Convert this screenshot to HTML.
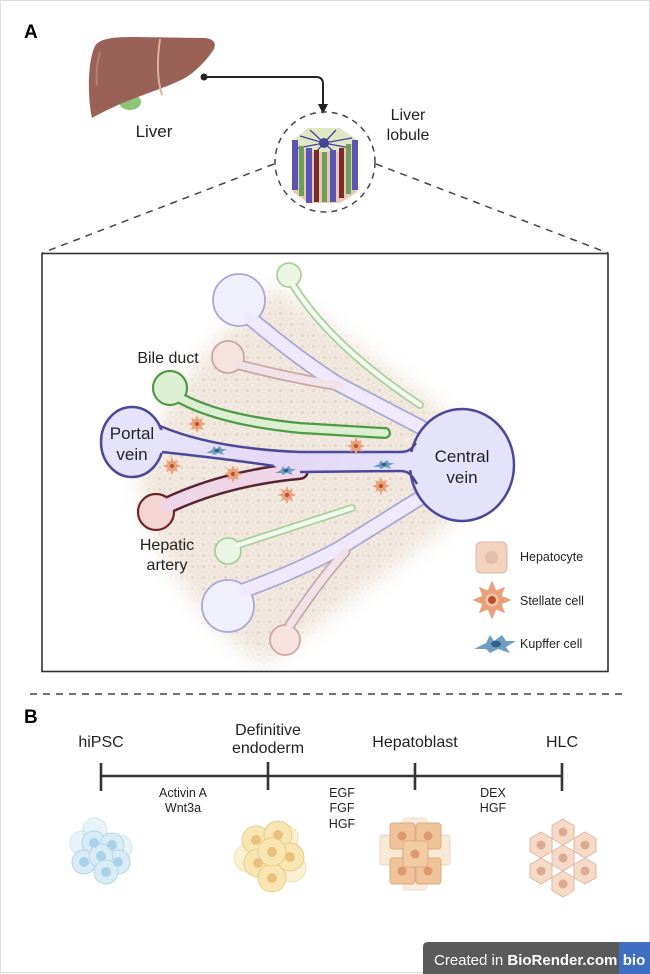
<!DOCTYPE html>
<html><head><meta charset="utf-8"><style>
html,body{margin:0;padding:0;background:#fff;}
svg{display:block;}
text{font-family:"Liberation Sans",sans-serif;fill:#222;}
</style></head><body>
<svg width="650" height="974" viewBox="0 0 650 974" xmlns="http://www.w3.org/2000/svg">
<defs>
<pattern id="hep" width="11" height="11" patternUnits="userSpaceOnUse">
<rect width="11" height="11" fill="#f5ede6"/>
<rect x="0.8" y="0.8" width="9.4" height="9.4" rx="2" fill="#f2e9e0" stroke="#e6d9cd" stroke-width="0.6"/>
<circle cx="5.5" cy="5.5" r="1.8" fill="#e6d8cb"/>
</pattern>
<filter id="bl" x="-20%" y="-20%" width="140%" height="140%"><feGaussianBlur stdDeviation="10"/></filter>
<mask id="fanm"><path d="M140,480 C150,410 220,330 275,285 L455,420 L455,520 L265,665 C210,630 150,560 140,480 Z" fill="#fff" filter="url(#bl)"/></mask>
<linearGradient id="chan" x1="0" x2="1"><stop offset="0" stop-color="#e6e4fb"/><stop offset="0.5" stop-color="#e5d6f6"/><stop offset="1" stop-color="#e4e3fb"/></linearGradient>
<polygon id="hx" points="0,-13 11,-6.5 11,6.5 0,13 -11,6.5 -11,-6.5"/>
<g id="st">
<g fill="#eaa07a">
<circle cx="0" cy="0" r="5"/>
<path d="M0,-9 L2,-4 L-2,-4 Z M0,9 L2,4 L-2,4 Z M-9,0 L-4,2 L-4,-2 Z M9,0 L4,2 L4,-2 Z M6,-6 L1,-4 L4,-1 Z M-6,6 L-1,4 L-4,1 Z M-6,-6 L-4,-1 L-1,-4 Z M6,6 L4,1 L1,4 Z"/>
</g>
<circle cx="0" cy="0" r="2" fill="#b5532b"/>
</g>
<g id="ku"><path d="M-10,3 L-4,0 L-2,-4 L0,-1 L4,-4 L6,-1 L11,-1 L6,2 L8,5 L2,3 L-2,5 L-4,3 Z" fill="#6e9ec0"/><ellipse cx="1" cy="0.5" rx="2.5" ry="1.6" fill="#2f5f8a"/></g>
</defs>
<rect x="0.5" y="0.5" width="649" height="972" fill="#fff" stroke="#ddd"/>

<!-- A -->
<text x="24" y="38" font-size="19" font-weight="bold" style="fill:#000">A</text>
<!-- liver -->
<ellipse cx="130" cy="102" rx="11" ry="8" fill="#8cc47a"/>
<path d="M92,118 C87,95 88,60 95,46 C100,38 115,37 135,37 L205,38 C216,39 217,46 212,52 C205,62 195,72 185,78 C170,86 150,92 130,100 C115,106 103,112 92,118 Z" fill="#9a6156"/>
<path d="M160,39 C157,60 157,80 162,95" stroke="#d8b694" stroke-width="2" fill="none"/>
<path d="M100,52 C97,62 96,74 97,86" stroke="#b37f74" stroke-width="2" fill="none"/>
<text x="154" y="137" font-size="17" text-anchor="middle">Liver</text>
<!-- connector -->
<circle cx="204" cy="77" r="3.5" fill="#222"/>
<path d="M204,77 H316 Q323,77 323,84 V106" stroke="#222" stroke-width="2" fill="none"/>
<path d="M318,104 L328,104 L323,114 Z" fill="#222"/>
<!-- lobule circle -->
<circle cx="325" cy="162" r="50" fill="none" stroke="#444" stroke-width="1.5" stroke-dasharray="6,5"/>
<path d="M274,164 L42,253" stroke="#444" stroke-width="1.5" stroke-dasharray="7,6"/>
<path d="M376,164 L608,253" stroke="#444" stroke-width="1.5" stroke-dasharray="7,6"/>
<!-- lobule prism -->
<polygon points="293,140 308,128 340,128 357,140 357,192 340,203 308,203 293,192" fill="#eac9b4"/>
<polygon points="293,140 308,128 340,128 357,140 340,152 308,152" fill="#dfe7c4"/>
<circle cx="324" cy="143" r="5" fill="#2f4f8f"/>
<g stroke="#4d3f9a" stroke-width="1.3"><path d="M324,143 L300,136 M324,143 L310,130 M324,143 L336,130 M324,143 L352,138 M324,143 L350,148 M324,143 L298,148 M324,143 L316,152 M324,143 L334,152"/></g>
<g>
<rect x="292" y="140" width="6" height="50" fill="#5a55b5"/>
<rect x="299" y="146" width="5" height="50" fill="#6ba05a"/>
<rect x="306" y="148" width="6" height="55" fill="#5a55b5"/>
<rect x="314" y="150" width="5" height="52" fill="#7a2b2b"/>
<rect x="322" y="152" width="5" height="50" fill="#6ba05a"/>
<rect x="330" y="150" width="6" height="52" fill="#5a55b5"/>
<rect x="339" y="148" width="5" height="50" fill="#7a2b2b"/>
<rect x="346" y="144" width="5" height="50" fill="#6ba05a"/>
<rect x="352" y="140" width="6" height="50" fill="#5a55b5"/>
</g>
<text x="408" y="120" font-size="16" text-anchor="middle">Liver</text>
<text x="408" y="140" font-size="16" text-anchor="middle">lobule</text>

<!-- box -->
<rect x="42" y="253.5" width="566" height="418" fill="#fff" stroke="#333" stroke-width="1.6"/>
<rect x="100" y="260" width="380" height="410" fill="url(#hep)" mask="url(#fanm)"/>

<g fill="none" stroke-linecap="round">
<path d="M250,318 Q300,360 340,385 L430,432" stroke="#a9a7d4" stroke-width="16"/>
<path d="M240,365 Q290,378 340,386" stroke="#c9a8a4" stroke-width="11"/>
<path d="M293,285 Q330,345 420,405" stroke="#a8d09b" stroke-width="8"/>
<path d="M238,545 Q300,525 352,508" stroke="#a8d09b" stroke-width="8"/>
<path d="M245,590 Q300,570 340,548 L425,495" stroke="#a9a7d4" stroke-width="16"/>
<path d="M290,625 Q320,580 345,552" stroke="#c9a8a4" stroke-width="11"/>
</g>
<circle cx="239" cy="300" r="26" fill="#f0effc" stroke="#a9a7d4" stroke-width="1.8"/>
<circle cx="228" cy="357" r="16" fill="#f6e2df" stroke="#c9a8a4" stroke-width="1.8"/>
<circle cx="289" cy="275" r="12" fill="#ebf5e5" stroke="#a8d09b" stroke-width="1.8"/>
<circle cx="228" cy="551" r="13" fill="#ebf5e5" stroke="#a8d09b" stroke-width="1.8"/>
<circle cx="228" cy="606" r="26" fill="#f0effc" stroke="#a9a7d4" stroke-width="1.8"/>
<circle cx="285" cy="640" r="15" fill="#f6e2df" stroke="#c9a8a4" stroke-width="1.8"/>
<g fill="none" stroke-linecap="round">
<path d="M250,318 Q300,360 340,385 L430,432" stroke="#efe9fb" stroke-width="12.5"/>
<path d="M240,365 Q290,378 340,386" stroke="#f1e2ea" stroke-width="7.5"/>
<path d="M293,285 Q330,345 420,405" stroke="#f4faf1" stroke-width="4.5"/>
<path d="M238,545 Q300,525 352,508" stroke="#f4faf1" stroke-width="4.5"/>
<path d="M245,590 Q300,570 340,548 L425,495" stroke="#efe9fb" stroke-width="12.5"/>
<path d="M290,625 Q320,580 345,552" stroke="#f1e2ea" stroke-width="7.5"/>
</g>

<!-- bile duct -->
<path d="M180,398 Q220,420 300,428 L385,433" fill="none" stroke="#4f9a45" stroke-width="12" stroke-linecap="round"/>
<circle cx="170" cy="388" r="17" fill="#dcefd2" stroke="#4f9a45" stroke-width="2.2"/>
<path d="M180,398 Q220,420 300,428 L385,433" fill="none" stroke="#dcefd2" stroke-width="7.5" stroke-linecap="round"/>

<!-- hepatic artery -->
<path d="M166,506 Q225,478 300,471" fill="none" stroke="#5a2335" stroke-width="18" stroke-linecap="round"/>
<circle cx="156" cy="512" r="18" fill="#f4d5d2" stroke="#6e2328" stroke-width="2.2"/>
<path d="M166,506 Q225,478 300,471" fill="none" stroke="#efd6e6" stroke-width="13" stroke-linecap="round"/>

<!-- portal vein + channel -->
<path d="M150,426 C200,444 250,450 300,452 L425,452 L425,470 L300,472 C288,472 280,468 274,466 L150,452 Z" fill="url(#chan)"/>
<ellipse cx="132" cy="442" rx="31" ry="35" fill="#e4e3fb" stroke="#4b4897" stroke-width="2.5"/>
<ellipse cx="462" cy="465" rx="52" ry="56" fill="#e4e3fb" stroke="#4b4897" stroke-width="2.5"/>
<path d="M155,428 C200,444 250,450 300,452 L418,452 L418,470 L300,472 C288,472 280,468 274,466 L155,452 Z" fill="url(#chan)"/>
<g fill="none" stroke="#4b4897" stroke-width="2.5">
<path d="M160,426 C200,443 250,450 300,452 L400,452 C410,452 412,448 416,443"/>
<path d="M162,452 C200,456 240,461 274,466"/>
<path d="M300,472 L400,471 C410,471 412,476 417,484"/>
</g>
<text x="132" y="439" font-size="17" text-anchor="middle">Portal</text>
<text x="132" y="460" font-size="17" text-anchor="middle">vein</text>
<text x="462" y="462" font-size="17" text-anchor="middle">Central</text>
<text x="462" y="483" font-size="17" text-anchor="middle">vein</text>
<text x="168" y="363" font-size="16" text-anchor="middle">Bile duct</text>
<text x="167" y="550" font-size="16" text-anchor="middle">Hepatic</text>
<text x="167" y="570" font-size="16" text-anchor="middle">artery</text>

<use href="#st" x="197" y="424"/>
<use href="#st" x="172" y="466"/>
<use href="#st" x="233" y="474"/>
<use href="#st" x="287" y="495"/>
<use href="#st" x="356" y="446"/>
<use href="#st" x="381" y="486"/>
<use href="#ku" x="216" y="450"/>
<use href="#ku" x="285" y="470"/>
<use href="#ku" x="383" y="464"/>

<!-- legend -->
<rect x="476" y="542" width="31" height="31" rx="5" fill="#f1d3bf" stroke="#dcb9a3"/>
<circle cx="491.5" cy="557.5" r="6.5" fill="#e2bfab"/>
<text x="520" y="561" font-size="12.5">Hepatocyte</text>
<g transform="translate(492,600) scale(2.2)">
<g fill="#eaa07a"><circle r="5"/><path d="M0,-9 L2,-4 L-2,-4 Z M0,9 L2,4 L-2,4 Z M-9,0 L-4,2 L-4,-2 Z M9,0 L4,2 L4,-2 Z M6,-6 L1,-4 L4,-1 Z M-6,6 L-1,4 L-4,1 Z M-6,-6 L-4,-1 L-1,-4 Z M6,6 L4,1 L1,4 Z"/></g>
<circle r="3" fill="#f3c3a4"/><circle r="1.8" fill="#b5532b"/></g>
<text x="520" y="605" font-size="12.5">Stellate cell</text>
<g transform="translate(494,643) scale(2)"><path d="M-10,3 L-4,0 L-2,-4 L0,-1 L4,-4 L6,-1 L11,-1 L6,2 L8,5 L2,3 L-2,5 L-4,3 Z" fill="#6e9ec0"/><ellipse cx="1" cy="0.5" rx="2.5" ry="1.6" fill="#2f5f8a"/></g>
<text x="520" y="648" font-size="12.5">Kupffer cell</text>

<path d="M30,694 H622" stroke="#444" stroke-width="1.5" stroke-dasharray="7,6"/>

<!-- B -->
<text x="24" y="723" font-size="19" font-weight="bold" style="fill:#000">B</text>
<text x="101" y="747" font-size="16" text-anchor="middle">hiPSC</text>
<text x="268" y="735" font-size="16" text-anchor="middle">Definitive</text>
<text x="268" y="753" font-size="16" text-anchor="middle">endoderm</text>
<text x="415" y="747" font-size="16" text-anchor="middle">Hepatoblast</text>
<text x="562" y="747" font-size="16" text-anchor="middle">HLC</text>
<g stroke="#333" stroke-width="2.6">
<path d="M101,776 H562"/>
<path d="M101,763 V791 M268,762 V790 M415,763 V790 M562,763 V791"/>
</g>
<g font-size="12.5" text-anchor="middle">
<text x="183" y="797">Activin A</text><text x="183" y="812">Wnt3a</text>
<text x="342" y="797">EGF</text><text x="342" y="812">FGF</text><text x="342" y="828">HGF</text>
<text x="493" y="797">DEX</text><text x="493" y="812">HGF</text>
</g>

<g stroke="#b3d6e8" stroke-width="1" fill="#d9ecf6">
<circle cx="82" cy="843" r="12" opacity="0.6"/><circle cx="120" cy="847" r="12" opacity="0.6"/><circle cx="95" cy="830" r="12" opacity="0.6"/>
<circle cx="94" cy="843" r="12"/><circle cx="112" cy="845" r="12"/><circle cx="84" cy="862" r="12"/>
<circle cx="118" cy="862" r="12"/><circle cx="101" cy="856" r="12"/><circle cx="106" cy="872" r="12"/>
</g>
<g fill="#a9d1e8"><circle cx="94" cy="843" r="5"/><circle cx="112" cy="845" r="5"/><circle cx="84" cy="862" r="5"/><circle cx="118" cy="862" r="5"/><circle cx="101" cy="856" r="5"/><circle cx="106" cy="872" r="5"/></g>
<g stroke="#e6cf8a" stroke-width="1" fill="#f8e6b2">
<circle cx="248" cy="858" r="14" opacity="0.6"/><circle cx="292" cy="868" r="14" opacity="0.6"/><circle cx="285" cy="838" r="13" opacity="0.6"/>
<circle cx="256" cy="840" r="14"/><circle cx="278" cy="835" r="14"/><circle cx="258" cy="863" r="14"/>
<circle cx="290" cy="857" r="14"/><circle cx="272" cy="878" r="14"/><circle cx="272" cy="852" r="14"/>
</g>
<g fill="#ebc07f"><circle cx="256" cy="840" r="5"/><circle cx="278" cy="835" r="5"/><circle cx="258" cy="863" r="5"/><circle cx="290" cy="857" r="5"/><circle cx="272" cy="878" r="5"/><circle cx="272" cy="852" r="5"/></g>
<g stroke="#dcab80" stroke-width="1" fill="#f3d2ae">
<rect x="380" y="835" width="22" height="30" rx="3" opacity="0.5"/><rect x="428" y="835" width="22" height="30" rx="3" opacity="0.5"/><rect x="403" y="818" width="24" height="72" rx="3" opacity="0.4"/>
<rect x="390" y="823" width="25" height="26" rx="3" fill="#f0c49a"/><rect x="416" y="823" width="25" height="26" rx="3" fill="#f0c49a"/>
<rect x="390" y="858" width="25" height="26" rx="3" fill="#f0c49a"/><rect x="416" y="858" width="25" height="26" rx="3" fill="#f0c49a"/>
<rect x="403" y="841" width="25" height="26" rx="3" fill="#f2cba3"/>
</g>
<g fill="#dd9a72"><circle cx="402" cy="836" r="4.5"/><circle cx="428" cy="836" r="4.5"/><circle cx="402" cy="871" r="4.5"/><circle cx="428" cy="871" r="4.5"/><circle cx="415" cy="854" r="4.5"/></g>
<g stroke="#e2b7a0" stroke-width="1" fill="#f6dac8">
<use href="#hx" x="563" y="832"/><use href="#hx" x="541" y="845"/><use href="#hx" x="585" y="845"/>
<use href="#hx" x="563" y="858"/><use href="#hx" x="541" y="871"/><use href="#hx" x="585" y="871"/>
<use href="#hx" x="563" y="884"/>
</g>
<g fill="#dca994"><circle cx="563" cy="832" r="4.5"/><circle cx="541" cy="845" r="4.5"/><circle cx="585" cy="845" r="4.5"/><circle cx="563" cy="858" r="4.5"/><circle cx="541" cy="871" r="4.5"/><circle cx="585" cy="871" r="4.5"/><circle cx="563" cy="884" r="4.5"/></g>

<path d="M428,942 H650 V974 H423 V947 Q423,942 428,942 Z" fill="#5a5a5a"/>
<rect x="619" y="942" width="31" height="32" fill="#3f6fc3"/>
<text x="434" y="965" font-size="15" style="fill:#fff">Created in <tspan font-weight="bold" style="fill:#fff">BioRender.com</tspan></text>
<text x="634" y="965" font-size="15" font-weight="bold" text-anchor="middle" style="fill:#fff">bio</text>
</svg>
</body></html>
